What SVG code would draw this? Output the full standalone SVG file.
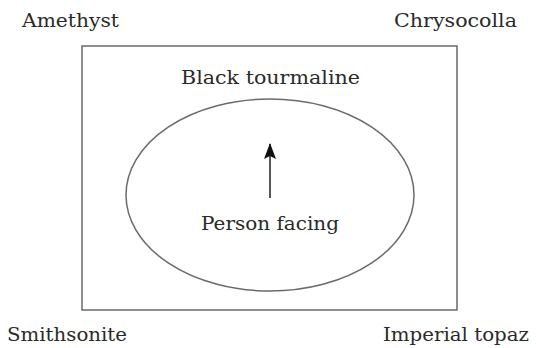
<svg xmlns="http://www.w3.org/2000/svg" width="536" height="348" viewBox="0 0 536 348">
  <style>
    .lbl { font-family: "DejaVu Serif", "Liberation Serif", serif; font-size: 19px; fill: #2a2a2a; }
    .shape { fill: none; stroke: #6a6a6a; stroke-width: 1.5; }
  </style>
  <defs>
    <marker id="ah" markerWidth="16" markerHeight="12" refX="15" refY="6" orient="auto" markerUnits="userSpaceOnUse" viewBox="0 0 16 12">
      <path d="M16,6 L0,0 L3,6 L0,12 Z" fill="#111"/>
    </marker>
  </defs>
  <rect width="536" height="348" fill="#ffffff"/>
  <g id="space">
    <rect class="shape" x="82" y="46" width="375" height="264"/>
  </g>
  <g id="amethyst">
    <text class="lbl" x="22" y="27" textLength="97" lengthAdjust="spacingAndGlyphs">Amethyst</text>
  </g>
  <g id="chrysocolla">
    <text class="lbl" x="394" y="27" textLength="123" lengthAdjust="spacingAndGlyphs">Chrysocolla</text>
  </g>
  <g id="smithsonite">
    <text class="lbl" x="7" y="341" textLength="120" lengthAdjust="spacingAndGlyphs">Smithsonite</text>
  </g>
  <g id="imperial-topaz">
    <text class="lbl" x="383" y="341" textLength="146" lengthAdjust="spacingAndGlyphs">Imperial topaz</text>
  </g>
  <g id="black-tourmaline">
    <text class="lbl" x="181" y="84" textLength="179" lengthAdjust="spacingAndGlyphs">Black tourmaline</text>
  </g>
  <g id="person-area">
    <ellipse class="shape" cx="270" cy="195" rx="144" ry="96"/>
    <text class="lbl" x="201" y="230" textLength="138" lengthAdjust="spacingAndGlyphs">Person facing</text>
  </g>
  <g id="connectors">
    <line x1="270" y1="198" x2="270" y2="144" stroke="#222" stroke-width="1.5" marker-end="url(#ah)"/>
  </g>
</svg>
